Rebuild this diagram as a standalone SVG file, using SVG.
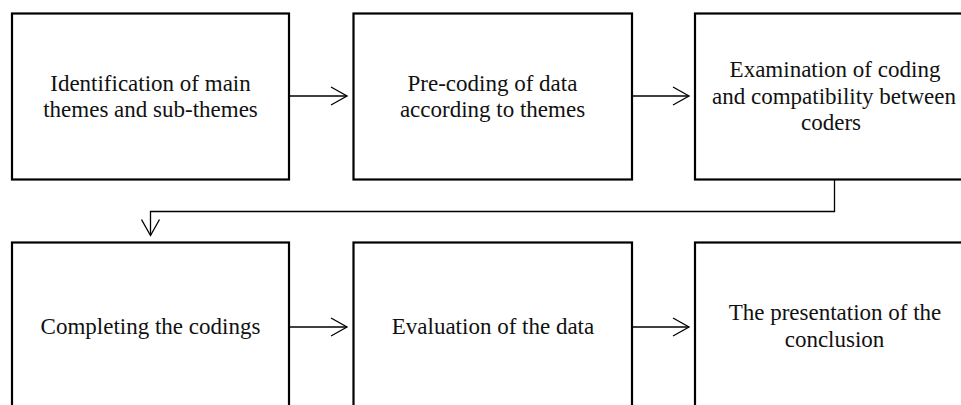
<svg xmlns="http://www.w3.org/2000/svg" width="961" height="405" viewBox="0 0 961 405">
<defs>
<style>
.box{fill:#fff;stroke:#000;stroke-width:2.2}
.t{font-family:"Liberation Serif","DejaVu Serif",serif;font-size:23px;fill:#111;text-anchor:middle}
.c{fill:none;stroke:#000;stroke-width:1.3}
</style>
<marker id="ah" viewBox="0 0 20 20" refX="17" refY="10" markerWidth="20" markerHeight="20" markerUnits="userSpaceOnUse" orient="auto">
<path d="M1,1 L17,10 L1,19" fill="none" stroke="#000" stroke-width="1.3"/>
</marker>
</defs>
<rect width="961" height="405" fill="#fff"/>
<g id="connectors">
<line class="c" x1="289" y1="96" x2="347" y2="96" marker-end="url(#ah)"/>
<line class="c" x1="632" y1="96" x2="689" y2="96" marker-end="url(#ah)"/>
<polyline class="c" points="834.5,180 834.5,211.5 150.5,211.5 150.5,235.5" marker-end="url(#ah)"/>
<line class="c" x1="289" y1="327" x2="347" y2="327" marker-end="url(#ah)"/>
<line class="c" x1="632" y1="327" x2="689" y2="327" marker-end="url(#ah)"/>
</g>
<g id="n1">
<rect class="box" x="12" y="13.5" width="277" height="166"/>
<text class="t" x="150.5" y="90.5">Identification of main</text>
<text class="t" x="150.5" y="117">themes and sub-themes</text>
</g>
<g id="n2">
<rect class="box" x="353.5" y="13.5" width="278.5" height="166"/>
<text class="t" x="492.5" y="90.5">Pre-coding of data</text>
<text class="t" x="492.5" y="117">according to themes</text>
</g>
<g id="n3">
<rect class="box" x="695" y="13.5" width="280" height="166"/>
<text class="t" x="835" y="77">Examination of coding</text>
<text class="t" x="834" y="103.5">and compatibility between</text>
<text class="t" x="831" y="130">coders</text>
</g>
<g id="n4">
<rect class="box" x="12" y="242.5" width="277" height="175"/>
<text class="t" x="150.5" y="333.5">Completing the codings</text>
</g>
<g id="n5">
<rect class="box" x="353.5" y="242.5" width="278.5" height="175"/>
<text class="t" x="493" y="333.5">Evaluation of the data</text>
</g>
<g id="n6">
<rect class="box" x="695" y="242.5" width="280" height="175"/>
<text class="t" x="835" y="320">The presentation of the</text>
<text class="t" x="834.5" y="347">conclusion</text>
</g>
</svg>
